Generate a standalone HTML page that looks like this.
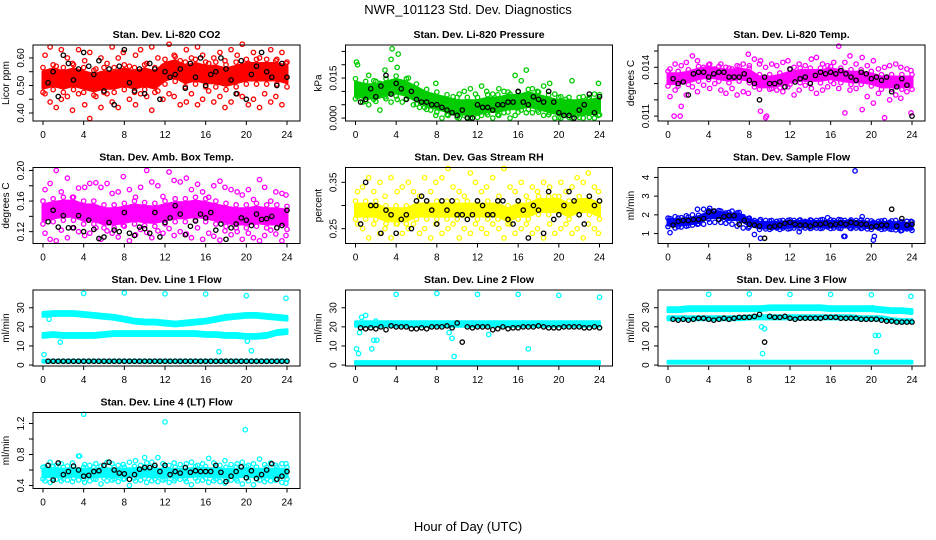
<!DOCTYPE html>
<html><head><meta charset="utf-8">
<style>
html,body{margin:0;padding:0;background:#fff;}
svg{display:block;font-family:"Liberation Sans",Arial,sans-serif;}
</style></head>
<body>
<svg id="chart" width="936" height="540" viewBox="0 0 936 540">
<rect x="0" y="0" width="936" height="540" fill="#fff"/>
<text x="468" y="14" text-anchor="middle" font-size="13">NWR_101123  Std. Dev. Diagnostics</text>
<text x="468" y="531" text-anchor="middle" font-size="13">Hour of Day (UTC)</text>
<g id="panels"></g>
</svg>
<script>
// shared x positions
const bandHours = [0,1,2,3,4,5,6,7,8,9,10,11,12,13,14,15,16,17,18,19,20,21,22,23,24];
const scatterHours = [0.2,0.7,1.3,1.8,2.4,2.9,3.5,4.1,4.6,5.2,5.7,6.3,6.8,7.4,7.9,8.5,9.1,9.6,10.2,10.7,11.3,11.8,12.4,12.9,13.5,14.1,14.6,15.2,15.7,16.3,16.8,17.4,17.9,18.5,19.1,19.6,20.2,20.7,21.3,21.8,22.4,22.9,23.5,23.9];
const blackHours = [0.5,1,1.5,2,2.5,3,3.5,4,4.5,5,5.5,6,6.5,7,7.5,8,8.5,9,9.5,10,10.5,11,11.5,12,12.5,13,13.5,14,14.5,15,15.5,16,16.5,17,17.5,18,18.5,19,19.5,20,20.5,21,21.5,22,22.5,23,23.5,24];
const xTicks = [0,4,8,12,16,20,24];

// Panel 1: CO2
const p1Band = [0.52,0.53,0.52,0.53,0.52,0.51,0.52,0.52,0.53,0.52,0.53,0.52,0.55,0.56,0.54,0.55,0.54,0.54,0.53,0.54,0.55,0.55,0.55,0.55,0.54];
const p1Hi = [0.61,0.64,0.57,0.63,0.60,0.58,0.63,0.59,0.62,0.56,0.60,0.58,0.64,0.60,0.62,0.57,0.61,0.63,0.58,0.64,0.60,0.57,0.65,0.61,0.59,0.63,0.60,0.64,0.61,0.58,0.60,0.62,0.59,0.63,0.61,0.65,0.58,0.62,0.60,0.57,0.63,0.59,0.62,0.58];
const p1Lo = [0.47,0.44,0.42,0.45,0.46,0.41,0.47,0.43,0.38,0.46,0.42,0.47,0.44,0.42,0.36,0.45,0.43,0.47,0.46,0.41,0.48,0.45,0.47,0.46,0.43,0.44,0.47,0.43,0.45,0.48,0.44,0.46,0.42,0.44,0.47,0.46,0.43,0.45,0.42,0.47,0.44,0.46,0.43,0.36];
const p1Black = [0.51,0.55,0.46,0.61,0.58,0.52,0.56,0.62,0.57,0.54,0.59,0.48,0.56,0.43,0.57,0.63,0.51,0.48,0.56,0.47,0.58,0.56,0.45,0.55,0.53,0.54,0.56,0.49,0.58,0.53,0.60,0.50,0.54,0.55,0.60,0.56,0.52,0.47,0.59,0.45,0.54,0.57,0.62,0.55,0.53,0.50,0.58,0.53];
const p1OutX = []; const p1OutY = [];
// Panel 2: Pressure
const p2Band = [0.011,0.010,0.010,0.011,0.012,0.011,0.009,0.007,0.006,0.005,0.004,0.004,0.004,0.005,0.005,0.006,0.006,0.007,0.006,0.005,0.004,0.004,0.004,0.004,0.005];
const p2Hi = [0.020,0.012,0.016,0.014,0.013,0.018,0.022,0.019,0.013,0.015,0.011,0.010,0.009,0.008,0.013,0.007,0.006,0.008,0.009,0.010,0.011,0.009,0.012,0.010,0.009,0.011,0.010,0.009,0.016,0.014,0.018,0.011,0.010,0.012,0.013,0.009,0.008,0.007,0.014,0.006,0.008,0.007,0.009,0.013];
const p2Lo = [0.008,0.006,0.005,0.007,0.003,0.008,0.006,0.007,0.006,0.008,0.005,0.004,0.004,0.003,0.001,0.000,0.001,0.002,0.000,0.001,0.000,0.002,0.001,0.002,0.000,0.001,0.002,0.000,0.001,0.003,0.002,0.002,0.003,0.001,0.002,0.000,0.000,0.001,0.000,0.001,0.000,0.002,0.000,0.001];
const p2Black = [0.006,0.007,0.011,0.008,0.012,0.016,0.009,0.013,0.011,0.007,0.010,0.007,0.006,0.006,0.005,0.005,0.004,0.003,0.002,0.001,0.003,0.000,0.000,0.005,0.004,0.004,0.003,0.005,0.005,0.006,0.006,0.010,0.006,0.005,0.008,0.007,0.006,0.010,0.006,0.002,0.001,0.001,0.000,0.003,0.005,0.009,0.002,0.008];
const p2OutX = [0.1,3.6,4.2]; const p2OutY = [0.021,0.026,0.024];
// Panel 3: Li-820 Temp
const p3Band = [0.0133,0.0133,0.0134,0.0136,0.0137,0.0136,0.0135,0.0136,0.0135,0.0131,0.0131,0.0132,0.0134,0.0135,0.0135,0.0135,0.0136,0.0135,0.0134,0.0134,0.0133,0.0131,0.0131,0.0131,0.0131];
const p3Hi = [0.0139,0.0142,0.0141,0.0143,0.0147,0.0144,0.0140,0.0142,0.0139,0.0142,0.0140,0.0139,0.0141,0.0142,0.0148,0.0145,0.0144,0.0140,0.0142,0.0141,0.0143,0.0144,0.0140,0.0142,0.0141,0.0145,0.0146,0.0142,0.0141,0.0143,0.0153,0.0143,0.0147,0.0142,0.0146,0.0141,0.0144,0.0139,0.0140,0.0141,0.0142,0.0140,0.0139,0.0138];
const p3Lo = [0.0122,0.0126,0.0116,0.0123,0.0128,0.0125,0.0129,0.0127,0.0130,0.0126,0.0124,0.0127,0.0123,0.0125,0.0124,0.0128,0.0113,0.0109,0.0127,0.0126,0.0125,0.0128,0.0123,0.0126,0.0129,0.0127,0.0124,0.0126,0.0128,0.0130,0.0127,0.0112,0.0126,0.0127,0.0114,0.0122,0.0118,0.0124,0.0109,0.0120,0.0123,0.0121,0.0125,0.0112];
const p3Black = [0.0133,0.0130,0.0131,0.0123,0.0136,0.0137,0.0137,0.0134,0.0136,0.0137,0.0137,0.0134,0.0134,0.0134,0.0136,0.0132,0.0130,0.0120,0.0134,0.0130,0.0130,0.0131,0.0128,0.0139,0.0131,0.0133,0.0134,0.0130,0.0135,0.0137,0.0136,0.0137,0.0136,0.0138,0.0136,0.0134,0.0132,0.0137,0.0136,0.0133,0.0134,0.0132,0.0134,0.0125,0.0128,0.0133,0.0129,0.0110];
const p3OutX = [0.6,1.2,8.0,9.0,9.7]; const p3OutY = [0.0110,0.0110,0.0141,0.0142,0.0110];
// Panel 4: Amb Box Temp
const p4Band = [0.145,0.148,0.150,0.150,0.145,0.145,0.140,0.140,0.142,0.145,0.143,0.142,0.145,0.148,0.148,0.150,0.148,0.145,0.142,0.140,0.140,0.142,0.140,0.140,0.138];
const p4Hi = [0.175,0.183,0.200,0.172,0.190,0.165,0.177,0.178,0.183,0.184,0.178,0.183,0.170,0.172,0.192,0.175,0.165,0.178,0.200,0.185,0.180,0.166,0.198,0.187,0.185,0.190,0.175,0.182,0.172,0.165,0.180,0.186,0.178,0.175,0.172,0.168,0.175,0.162,0.188,0.178,0.160,0.172,0.170,0.168];
const p4Lo = [0.118,0.110,0.108,0.122,0.112,0.125,0.120,0.115,0.118,0.125,0.110,0.121,0.118,0.113,0.128,0.108,0.116,0.123,0.119,0.112,0.121,0.118,0.124,0.115,0.120,0.117,0.112,0.125,0.110,0.118,0.114,0.109,0.121,0.116,0.120,0.110,0.118,0.112,0.108,0.115,0.122,0.117,0.108,0.115];
const p4Black = [0.133,0.148,0.126,0.141,0.125,0.125,0.141,0.120,0.135,0.123,0.111,0.113,0.132,0.122,0.120,0.145,0.118,0.115,0.126,0.124,0.118,0.145,0.113,0.132,0.138,0.154,0.143,0.116,0.127,0.134,0.143,0.138,0.145,0.122,0.130,0.110,0.125,0.130,0.138,0.135,0.128,0.143,0.136,0.137,0.140,0.125,0.128,0.148];
const p4OutX = []; const p4OutY = [];
// Panel 5: Gas Stream RH
const p5Band = [0.29,0.29,0.29,0.28,0.28,0.28,0.29,0.29,0.29,0.29,0.29,0.29,0.29,0.29,0.29,0.28,0.29,0.29,0.30,0.30,0.30,0.29,0.30,0.30,0.29];
const p5Hi = [0.33,0.34,0.36,0.33,0.35,0.32,0.36,0.33,0.34,0.35,0.33,0.32,0.36,0.33,0.35,0.36,0.38,0.34,0.33,0.32,0.37,0.35,0.33,0.34,0.36,0.32,0.38,0.34,0.33,0.35,0.32,0.34,0.33,0.35,0.34,0.32,0.35,0.33,0.34,0.36,0.35,0.37,0.34,0.33];
const p5Lo = [0.26,0.25,0.23,0.26,0.24,0.25,0.23,0.26,0.24,0.25,0.26,0.24,0.25,0.23,0.26,0.24,0.25,0.26,0.23,0.25,0.24,0.26,0.25,0.24,0.26,0.25,0.23,0.26,0.24,0.25,0.26,0.24,0.25,0.23,0.26,0.24,0.25,0.26,0.24,0.25,0.23,0.26,0.25,0.24];
const p5Black = [0.26,0.35,0.30,0.30,0.24,0.29,0.28,0.24,0.27,0.28,0.25,0.31,0.32,0.31,0.29,0.26,0.31,0.29,0.31,0.28,0.28,0.27,0.28,0.31,0.30,0.28,0.28,0.31,0.31,0.27,0.26,0.31,0.29,0.23,0.30,0.29,0.24,0.33,0.27,0.28,0.30,0.33,0.31,0.28,0.26,0.32,0.30,0.31];
const p5OutX = []; const p5OutY = [];
// Panel 6: Sample Flow
const p6Band = [1.6,1.6,1.65,1.75,2.0,2.0,1.9,1.9,1.6,1.45,1.45,1.45,1.5,1.5,1.5,1.5,1.5,1.5,1.5,1.5,1.45,1.45,1.45,1.4,1.4];
const p6Hi = [1.8,1.9,1.85,1.95,2.0,2.3,2.3,2.35,2.2,2.2,2.1,2.2,2.1,1.9,1.8,1.7,1.75,1.7,1.7,1.65,1.7,1.7,1.7,1.7,1.65,1.7,1.7,1.75,1.85,1.7,1.75,1.7,1.65,1.7,1.9,1.7,1.6,1.65,1.7,1.6,1.7,1.6,1.65,1.65];
const p6Lo = [1.05,1.3,1.35,1.4,1.45,1.5,1.5,1.6,1.6,1.6,1.55,1.5,1.4,1.3,1.3,0.95,0.75,1.25,1.3,1.3,1.3,1.25,1.3,1.1,1.3,1.3,1.3,1.3,1.35,1.3,1.3,0.85,1.3,1.3,1.3,1.25,0.65,1.3,1.25,1.25,1.2,1.15,1.25,1.3];
const p6Black = [1.45,1.65,1.7,1.7,1.75,1.75,1.8,2.15,2.2,1.75,1.9,1.95,1.95,1.5,1.7,1.5,1.45,1.4,0.75,1.35,1.4,1.45,1.55,1.6,1.5,1.45,1.45,1.4,1.5,1.5,1.55,1.45,1.5,1.55,1.5,1.6,1.55,1.5,1.5,1.35,1.4,1.45,1.45,2.3,1.4,1.8,1.45,1.5];
const p6OutX = [18.4,17.3,20.3]; const p6OutY = [4.35,0.85,0.85];
// Panel 7: Line 1 Flow
const p7BandA = [26.5,27,27,27,26.5,26,25.5,25,24,23,22.5,22.5,22,21.5,22,22.5,23,24,25,25.5,26,26,25.5,25,24.5];
const p7BandB = [15.5,16,15.5,15.5,15.5,15.5,16,16.5,16.5,16.5,16.5,16.5,16.5,16.5,16.5,16.5,16,16,15.5,15.5,15,15,15.5,17,17.5];
const p7BandC = [2,2,2,2,2,2,2,2,2,2,2,2,2,2,2,2,2,2,2,2,2,2,2,2,2];
const p7Black = [2,2,2,2,2,2,2,2,2,2,2,2,2,2,2,2,2,2,2,2,2,2,2,2,2,2,2,2,2,2,2,2,2,2,2,2,2,2,2,2,2,2,2,2,2,2,2,2];
const p7OutX = [4,8,12,16,20,23.9,0.1,17.3,20.1,20.5,1.7,0.6]; const p7OutY = [37.5,37.8,37.3,37.2,36.3,35,5.5,7,12.5,7.5,12,24];
// Panel 8: Line 2 Flow
const p8BandA = [21.5,21.5,21.5,21.5,21.5,21.5,21.5,21.5,21.5,21.5,21.5,21.5,21.5,21.5,21.5,21.5,21.5,21.5,21.5,21.5,21.5,21.5,21.5,21.5,21.5];
const p8BandC = [1.2,1.2,1.2,1.2,1.2,1.2,1.2,1.2,1.2,1.2,1.2,1.2,1.2,1.2,1.2,1.2,1.2,1.2,1.2,1.2,1.2,1.2,1.2,1.2,1.2];
const p8Black = [19.5,19,19.5,19,20,18.5,20.5,20,20,20,19,19,19.5,19,20,20,20,20.5,19.5,22,12,20,19.5,20,20,20,18.5,19,20,19,19.5,19.5,20,20,20,20.5,20,19.5,19.5,19.5,20,20,20,20,19.5,19.5,20,19.5];
const p8OutX = [0.1,0.3,0.4,0.6,1.0,1.6,1.8,2.1,2.0,9.2,9.5,9.7,13.1,17.0,4,8,12,16,20,24]; const p8OutY = [8.5,6,17,25,26,8.5,13,13,23,17,14,4.5,16,8.5,37,37.5,37,37,36.5,35.5];
// Panel 9: Line 3 Flow
const p9BandA = [29,29,29.5,29.5,29.5,29.5,29.5,29.5,29.5,29.5,30,30,30,30,30,30,29.5,29.5,29.5,29.5,29.5,29,28.5,28.5,28];
const p9BandB = [24.5,24.5,24.5,24.5,24.5,24.5,24.5,24.5,25,25,25,25,25,25,25,25,25,25,25,24.5,24.5,24.5,23.5,23,23];
const p9BandC = [1.5,1.5,1.5,1.5,1.5,1.5,1.5,1.5,1.5,1.5,1.5,1.5,1.5,1.5,1.5,1.5,1.5,1.5,1.5,1.5,1.5,1.5,1.5,1.5,1.5];
const p9Black = [24,23.5,24,23.5,24,24.5,24.5,24,23.5,24,24.5,24,24.5,25,25,25,25.5,26.5,12,25.5,25,25,25.5,24.5,24,24.5,24.5,24.5,24.5,24.5,25,25,25,24.5,24.5,24.5,24.5,24,24,24,24,23.5,23,23,22.5,22.5,22.5,22.5];
const p9OutX = [4,8,12,16,20,23.9,9.2,9.5,9.3,20.4,20.7,20.5,20.1]; const p9OutY = [37,37.2,37,37,36.8,36,20,19,6,15.5,15.5,7,30];
// Panel 10: Line 4 (LT) Flow
const p10Band = [0.56,0.57,0.56,0.57,0.56,0.56,0.57,0.56,0.56,0.57,0.57,0.56,0.56,0.56,0.56,0.57,0.57,0.56,0.56,0.56,0.57,0.56,0.56,0.56,0.56];
const p10Hi = [0.64,0.70,0.66,0.68,0.65,0.69,0.78,0.67,0.66,0.68,0.65,0.70,0.68,0.66,0.67,0.70,0.72,0.66,0.69,0.70,0.76,0.68,0.66,0.69,0.67,0.68,0.70,0.66,0.68,0.75,0.69,0.66,0.72,0.67,0.68,0.70,0.66,0.68,0.74,0.67,0.69,0.66,0.68,0.68];
const p10Lo = [0.46,0.44,0.48,0.46,0.47,0.45,0.47,0.44,0.46,0.48,0.42,0.46,0.47,0.45,0.48,0.40,0.46,0.47,0.44,0.46,0.45,0.47,0.44,0.46,0.48,0.45,0.41,0.46,0.47,0.44,0.46,0.45,0.43,0.47,0.46,0.42,0.46,0.41,0.47,0.45,0.46,0.47,0.44,0.43];
const p10Black = [0.66,0.47,0.69,0.54,0.58,0.65,0.60,0.52,0.53,0.58,0.59,0.66,0.70,0.60,0.56,0.55,0.48,0.54,0.61,0.63,0.63,0.66,0.58,0.66,0.54,0.58,0.56,0.63,0.57,0.59,0.58,0.58,0.58,0.66,0.57,0.45,0.52,0.58,0.64,0.50,0.59,0.49,0.54,0.60,0.68,0.48,0.52,0.58];
const p10OutX = [4,12,19.9,3.6,10.0]; const p10OutY = [1.32,1.22,1.12,0.78,0.76];

// y-axis definitions
const p1Ticks=[0.40,0.45,0.50,0.55,0.60], p1Labels=["0.40","","0.50","","0.60"];
const p2Ticks=[0,0.005,0.010,0.015,0.020,0.025], p2Labels=["0.000","","","0.015","",""];
const p3Ticks=[0.011,0.012,0.013,0.014,0.015], p3Labels=["0.011","","","0.014",""];
const p4Ticks=[0.12,0.14,0.16,0.18,0.20], p4Labels=["0.12","","0.16","","0.20"];
const p5Ticks=[0.25,0.30,0.35], p5Labels=["0.25","","0.35"];
const p6Ticks=[1,2,3,4], p6Labels=["1","2","3","4"];
const lineTicks=[0,10,20,30], lineLabels=["0","10","20","30"];
const p10Ticks=[0.4,0.6,0.8,1.0,1.2], p10Labels=["0.4","","0.8","","1.2"];

const NS="http://www.w3.org/2000/svg";
const root=document.getElementById('panels');
function mk(tag,attrs,parent){const e=document.createElementNS(NS,tag);for(const k in attrs)e.setAttribute(k,attrs[k]);parent.appendChild(e);return e;}

const panels=[
 {name:'co2',title:'Stan. Dev. Li-820 CO2',ylab:'Licor ppm',col:'#ff0000',r:0,c:0,ymin:0.371,ymax:0.647,ticks:p1Ticks,labels:p1Labels,bands:[[p1Band,0.03]],edge:true,hi:p1Hi,lo:p1Lo,black:p1Black,ox:p1OutX,oy:p1OutY},
 {name:'pressure',title:'Stan. Dev. Li-820 Pressure',ylab:'kPa',col:'#00cc00',r:0,c:1,ymin:-0.0011,ymax:0.0274,ticks:p2Ticks,labels:p2Labels,bands:[[p2Band,0.0025]],edge:true,hi:p2Hi,lo:p2Lo,black:p2Black,ox:p2OutX,oy:p2OutY},
 {name:'temp',title:'Stan. Dev. Li-820 Temp.',ylab:'degrees C',col:'#ff00ff',r:0,c:2,ymin:0.0107,ymax:0.01537,ticks:p3Ticks,labels:p3Labels,bands:[[p3Band,0.0003]],edge:true,hi:p3Hi,lo:p3Lo,black:p3Black,ox:p3OutX,oy:p3OutY},
 {name:'amb-box-temp',title:'Stan. Dev. Amb. Box Temp.',ylab:'degrees C',col:'#ff00ff',r:1,c:0,ymin:0.1045,ymax:0.2039,ticks:p4Ticks,labels:p4Labels,bands:[[p4Band,0.01]],edge:true,hi:p4Hi,lo:p4Lo,black:p4Black,ox:p4OutX,oy:p4OutY},
 {name:'gas-rh',title:'Stan. Dev. Gas Stream RH',ylab:'percent',col:'#ffff00',r:1,c:1,ymin:0.218,ymax:0.382,ticks:p5Ticks,labels:p5Labels,bands:[[p5Band,0.013]],edge:true,hi:p5Hi,lo:p5Lo,black:p5Black,ox:p5OutX,oy:p5OutY},
 {name:'sample-flow',title:'Stan. Dev. Sample Flow',ylab:'ml/min',col:'#0000ff',r:1,c:2,ymin:0.47,ymax:4.53,ticks:p6Ticks,labels:p6Labels,bands:[[p6Band,0.15]],edge:true,hi:p6Hi,lo:p6Lo,black:p6Black,ox:p6OutX,oy:p6OutY},
 {name:'line1-flow',title:'Stan. Dev. Line 1 Flow',ylab:'ml/min',col:'#00ffff',r:2,c:0,ymin:-0.5,ymax:39.3,ticks:lineTicks,labels:lineLabels,bands:[[p7BandA,1],[p7BandB,1],[p7BandC,0.5]],edge:false,hi:null,lo:null,black:p7Black,ox:p7OutX,oy:p7OutY},
 {name:'line2-flow',title:'Stan. Dev. Line 2 Flow',ylab:'ml/min',col:'#00ffff',r:2,c:1,ymin:-0.5,ymax:39.3,ticks:lineTicks,labels:lineLabels,bands:[[p8BandA,1.2],[p8BandC,0.6]],edge:false,hi:null,lo:null,black:p8Black,ox:p8OutX,oy:p8OutY},
 {name:'line3-flow',title:'Stan. Dev. Line 3 Flow',ylab:'ml/min',col:'#00ffff',r:2,c:2,ymin:-0.5,ymax:39.3,ticks:lineTicks,labels:lineLabels,bands:[[p9BandA,1],[p9BandB,0.8],[p9BandC,0.5]],edge:false,hi:null,lo:null,black:p9Black,ox:p9OutX,oy:p9OutY},
 {name:'line4-flow',title:'Stan. Dev. Line 4 (LT) Flow',ylab:'ml/min',col:'#00ffff',r:3,c:0,ymin:0.361,ymax:1.342,ticks:p10Ticks,labels:p10Labels,bands:[[p10Band,0.05]],edge:true,hi:p10Hi,lo:p10Lo,black:p10Black,ox:p10OutX,oy:p10OutY}
];

panels.forEach(p=>{
  const L=33+p.c*312.5, T=45+p.r*122.5, W=267, H=76;
  const xs=h=>L+10+h*(244/24);
  const ys=v=>T+H-(v-p.ymin)/(p.ymax-p.ymin)*H;
  const g=mk('g',{},root);
  
  
  const t=mk('text',{x:L+W/2,y:T-7,'text-anchor':'middle','font-size':'10.5','font-weight':'bold'},g);
  t.textContent=p.title;
  
  
  const clip=mk('g',{},g);
  const dot=(h,v,col,nm)=>{
    const y=ys(v); if(y<T-2||y>T+H+2)return;
    const e=mk('circle',{cx:xs(h),cy:y,r:2.2,fill:'none',stroke:col,'stroke-width':'1.3'},clip);
    
    
  };
  // bands
  p.bands.forEach(b=>{
    const c=b[0], hw=b[1];
    let pts=[];
    for(let i=0;i<c.length;i++)pts.push(xs(bandHours[i])+','+ys(c[i]+hw));
    for(let i=c.length-1;i>=0;i--)pts.push(xs(bandHours[i])+','+ys(c[i]-hw));
    const poly=mk('polygon',{points:pts.join(' '),fill:p.col,stroke:p.col,'stroke-width':'3','stroke-linejoin':'round'},clip);
    
    
    if(p.edge){
      for(let i=0;i<c.length;i++){
        dot(bandHours[i],c[i]+hw*1.5,p.col,p.name+'-point');
        dot(bandHours[i],c[i]-hw*1.5,p.col,p.name+'-point');
      }
    }
  });
  if(p.hi)p.hi.forEach((v,i)=>dot(scatterHours[i],v,p.col,p.name+'-point'));
  if(p.lo)p.lo.forEach((v,i)=>dot(scatterHours[i],v,p.col,p.name+'-point'));
  p.ox.forEach((h,i)=>dot(h,p.oy[i],p.col,p.name+'-point'));
  p.black.forEach((v,i)=>dot(blackHours[i],v,'#000',p.name+'-hourly-point'));
  // frame
  const fr=mk('rect',{x:L,y:T,width:W,height:H,fill:'none',stroke:'#000','stroke-width':'1'},g);
  
  
  // x axis
  const xa=mk('g',{},g);
  
  
  mk('line',{x1:xs(0),x2:xs(24),y1:T+H,y2:T+H,stroke:'#000'},xa);
  xTicks.forEach(h=>{
    mk('line',{x1:xs(h),x2:xs(h),y1:T+H,y2:T+H+4,stroke:'#000'},xa);
    const tl=mk('text',{x:xs(h),y:T+H+17,'text-anchor':'middle','font-size':'10'},xa);
    tl.textContent=h;
  });
  // y axis
  const ya=mk('g',{},g);
  
  
  p.ticks.forEach((v,i)=>{
    const y=ys(v);
    mk('line',{x1:L-4,x2:L,y1:y,y2:y,stroke:'#000'},ya);
    if(p.labels[i]){
      const tl=mk('text',{x:L-9,y:y,'text-anchor':'middle','font-size':'10',transform:'rotate(-90 '+(L-9)+' '+y+')'},ya);
      tl.textContent=p.labels[i];
    }
  });
  const yl=mk('text',{x:L-24,y:T+H/2,'text-anchor':'middle','font-size':'10',transform:'rotate(-90 '+(L-24)+' '+(T+H/2)+')'},g);
  yl.textContent=p.ylab;
  
  
});
</script>
</body></html>
